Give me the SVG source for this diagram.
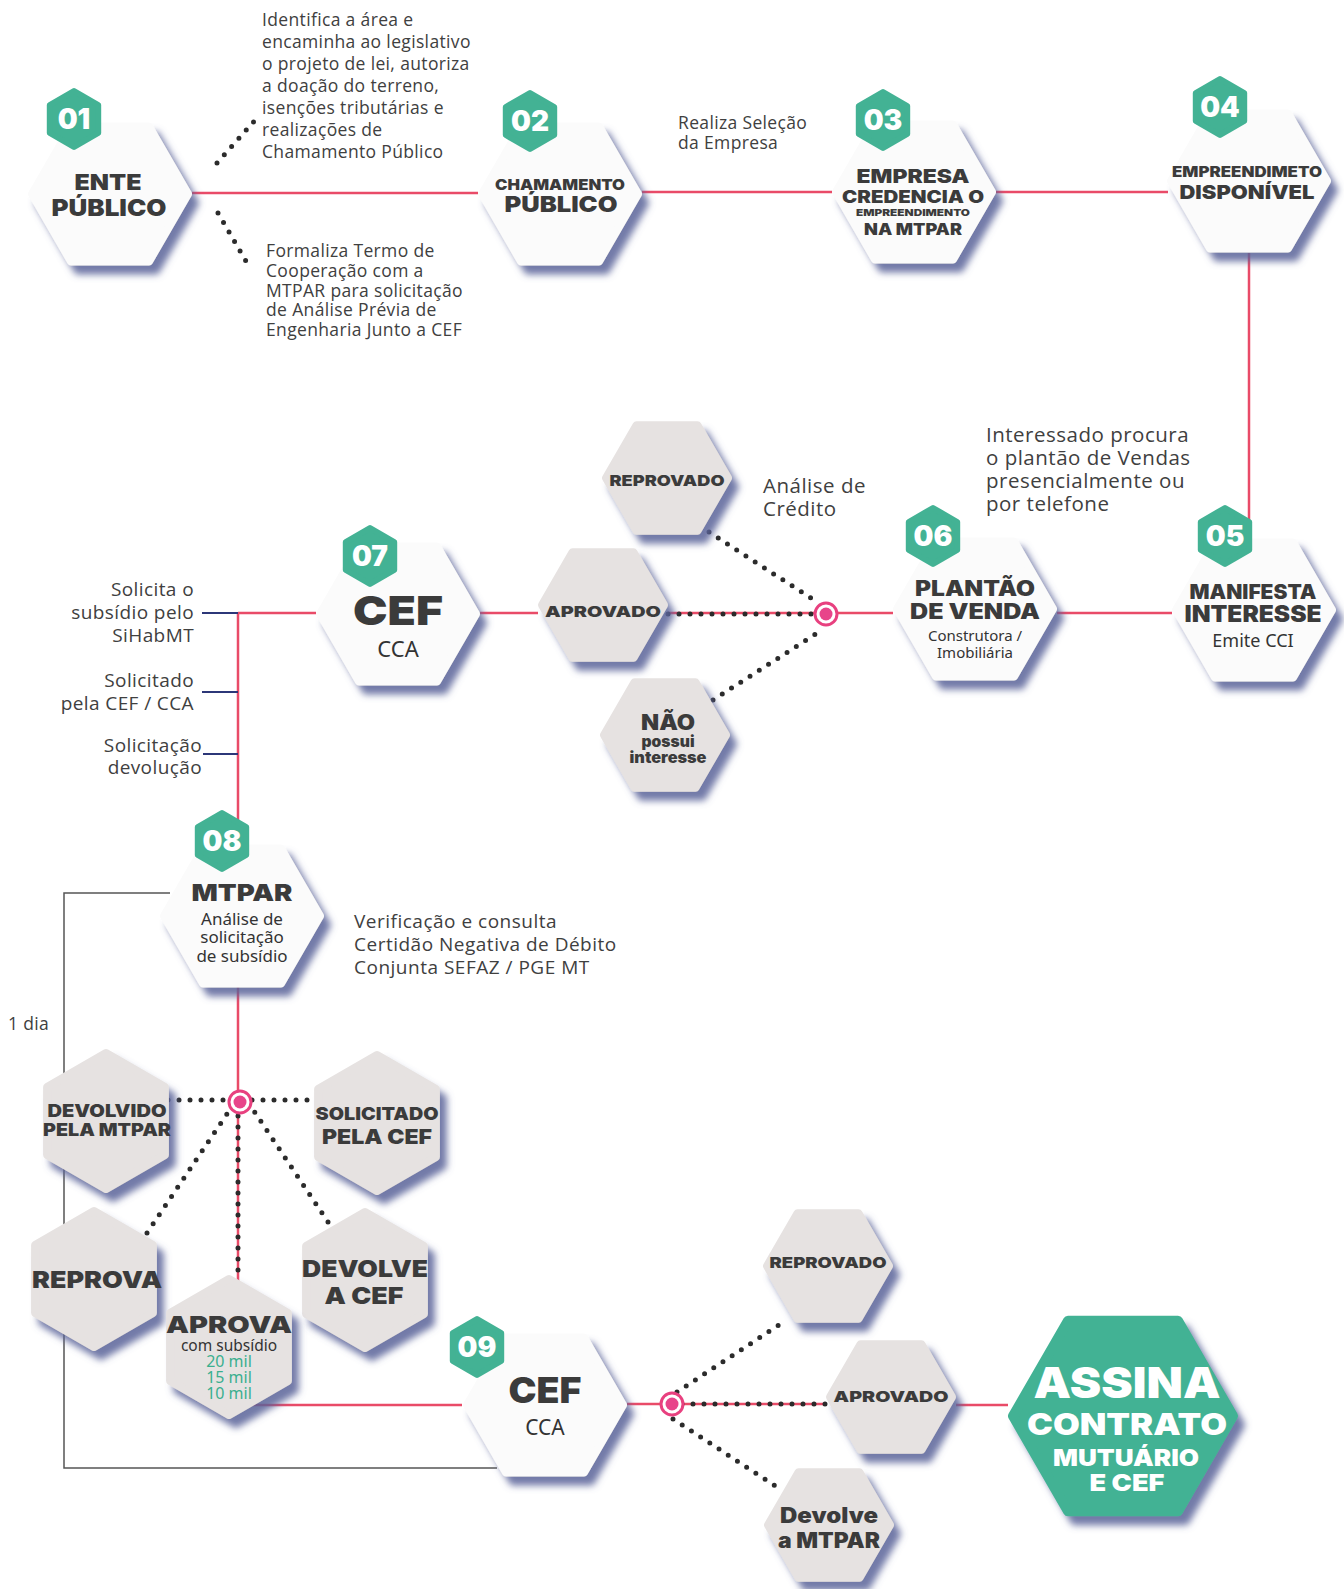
<svg xmlns="http://www.w3.org/2000/svg" xmlns:xlink="http://www.w3.org/1999/xlink" width="1344" height="1589" viewBox="0 0 1344 1589">
<style>
.red{stroke:#e94b68;stroke-width:2.5;fill:none}
.navy{stroke:#2c3778;stroke-width:2;fill:none}
.gray{stroke:#555;stroke-width:1.5;fill:none}
.dot{stroke:#2b2b2b;stroke-width:5;stroke-linecap:round;stroke-dasharray:0 11;fill:none}
.wn{fill:#fbfbfb;stroke:#fbfbfb;stroke-width:8;stroke-linejoin:round;filter:url(#sh)}
.gn{fill:#e6e2e1;stroke:#e6e2e1;stroke-width:8;stroke-linejoin:round;filter:url(#sh)}
.bd{fill:#43b294;stroke:#43b294;stroke-width:6;stroke-linejoin:round}
.bg{fill:#43b294;stroke:#43b294;stroke-width:10;stroke-linejoin:round;filter:url(#sh)}
.h{font-family:Inter,Lato,"Noto Sans",sans-serif;font-weight:900;fill:#3b3b3b;text-anchor:middle}
.hw{font-family:Inter,Lato,"Noto Sans",sans-serif;font-weight:900;fill:#fff;text-anchor:middle}
.bt{font-family:Inter,Lato,"Noto Sans",sans-serif;font-weight:900;fill:#fff;text-anchor:middle;font-size:28px}
.t{font-family:"Open Sans","Noto Sans",sans-serif;fill:#404040;font-size:17.5px;letter-spacing:0.35px}
.tl{font-family:"Open Sans","Noto Sans",sans-serif;fill:#404040;font-size:20.5px;letter-spacing:0.5px}
.tm{font-family:"Open Sans","Noto Sans",sans-serif;fill:#404040;font-size:19px;letter-spacing:0.5px}
.tr{font-family:"Open Sans","Noto Sans",sans-serif;fill:#404040;font-size:19px;letter-spacing:0.4px;text-anchor:end}
.c{font-family:"Noto Sans","Open Sans",sans-serif;fill:#333;text-anchor:middle}
.gr{font-family:"Noto Sans","Open Sans",sans-serif;fill:#3aaf8f;text-anchor:middle;font-size:16px}
</style>
<defs>
<filter id="sh" x="-20%" y="-20%" width="150%" height="150%">
<feDropShadow dx="7" dy="9" stdDeviation="3.5" flood-color="#5a6499" flood-opacity="0.85"/>
</filter>
<polygon id="hL" points="-78,0 -39,-67.5 39,-67.5 78,0 39,67.5 -39,67.5"/>
<polygon id="hS" points="-61,0 -30.5,-52.8 30.5,-52.8 61,0 30.5,52.8 -30.5,52.8"/>
<polygon id="hV" points="0,-68 58.9,-34 58.9,34 0,68 -58.9,34 -58.9,-34"/>
<polygon id="hBd" points="0,-28 24.2,-14 24.2,14 0,28 -24.2,14 -24.2,-14"/>
<polygon id="hB" points="-110,0 -55,-95.3 55,-95.3 110,0 55,95.3 -55,95.3"/>
</defs>
<rect width="1344" height="1589" fill="#ffffff"/>

<g id="connectors">
<line class="red" x1="192" y1="193" x2="478" y2="193"/>
<line class="red" x1="642" y1="192" x2="832" y2="192"/>
<line class="red" x1="996" y1="192" x2="1168" y2="192"/>
<line class="red" x1="1249" y1="253" x2="1249" y2="530"/>
<line class="red" x1="1057" y1="613" x2="1172" y2="613"/>
<line class="red" x1="668" y1="613" x2="893" y2="613"/>
<line class="red" x1="480" y1="613" x2="538" y2="613"/>
<line class="red" x1="238" y1="613" x2="316" y2="613"/>
<line class="red" x1="238" y1="612" x2="238" y2="1412"/>
<line class="red" x1="238" y1="1405" x2="462" y2="1405"/>
<line class="red" x1="627" y1="1404" x2="826" y2="1404"/>
<line class="red" x1="956" y1="1405" x2="1008" y2="1405"/>
<line class="navy" x1="202" y1="613" x2="238" y2="613"/>
<line class="navy" x1="202" y1="692" x2="238" y2="692"/>
<line class="navy" x1="203" y1="754" x2="238" y2="754"/>
<polyline class="gray" points="170,893 64,893 64,1468 497,1468"/>
<line class="dot" x1="217" y1="163" x2="257" y2="118"/>
<line class="dot" x1="218" y1="213" x2="247" y2="263"/>
<line class="dot" x1="709" y1="532" x2="817" y2="602"/>
<line class="dot" x1="668" y1="614" x2="812" y2="614"/>
<line class="dot" x1="713" y1="700" x2="822" y2="630"/>
<line class="dot" x1="168" y1="1100" x2="228" y2="1100"/>
<line class="dot" x1="252" y1="1100" x2="313" y2="1100"/>
<line class="dot" x1="147" y1="1233" x2="227" y2="1114"/>
<line class="dot" x1="328" y1="1222" x2="254" y2="1111"/>
<line class="dot" x1="238" y1="1116" x2="238" y2="1278"/>
<line class="dot" x1="677" y1="1392" x2="785" y2="1321"/>
<line class="dot" x1="673" y1="1419" x2="780" y2="1489"/>
<line class="dot" x1="682" y1="1404" x2="826" y2="1404"/>
<g id="junction1"><circle cx="826" cy="614" r="11" fill="#fff" stroke="#e8407f" stroke-width="3"/><circle cx="826" cy="614" r="6.5" fill="#e8448a"/></g>
<g id="junction2"><circle cx="240" cy="1102" r="11" fill="#fff" stroke="#e8407f" stroke-width="3"/><circle cx="240" cy="1102" r="6.5" fill="#e8448a"/></g>
<g id="junction3"><circle cx="672" cy="1404" r="11" fill="#fff" stroke="#e8407f" stroke-width="3"/><circle cx="672" cy="1404" r="6.5" fill="#e8448a"/></g>
</g>

<g id="labels">
<text class="t" x="262" y="26">Identifica a área e</text>
<text class="t" x="262" y="48">encaminha ao legislativo</text>
<text class="t" x="262" y="70">o projeto de lei, autoriza</text>
<text class="t" x="262" y="92">a doação do terreno,</text>
<text class="t" x="262" y="114">isenções tributárias e</text>
<text class="t" x="262" y="136">realizações de</text>
<text class="t" x="262" y="158">Chamamento Público</text>
<text class="t" x="266" y="257">Formaliza Termo de</text>
<text class="t" x="266" y="277">Cooperação com a</text>
<text class="t" x="266" y="297">MTPAR para solicitação</text>
<text class="t" x="266" y="316">de Análise Prévia de</text>
<text class="t" x="266" y="336">Engenharia Junto a CEF</text>
<text class="t" x="678" y="129">Realiza Seleção</text>
<text class="t" x="678" y="149">da Empresa</text>
<text class="tl" x="986" y="442">Interessado procura</text>
<text class="tl" x="986" y="465">o plantão de Vendas</text>
<text class="tl" x="986" y="488">presencialmente ou</text>
<text class="tl" x="986" y="511">por telefone</text>
<text class="tl" x="763" y="493">Análise de</text>
<text class="tl" x="763" y="516">Crédito</text>
<text class="tr" x="194" y="596">Solicita o</text>
<text class="tr" x="194" y="619">subsídio pelo</text>
<text class="tr" x="194" y="642">SiHabMT</text>
<text class="tr" x="194" y="687">Solicitado</text>
<text class="tr" x="194" y="710">pela CEF / CCA</text>
<text class="tr" x="202" y="752">Solicitação</text>
<text class="tr" x="202" y="774">devolução</text>
<text class="tm" x="354" y="928">Verificação e consulta</text>
<text class="tm" x="354" y="951">Certidão Negativa de Débito</text>
<text class="tm" x="354" y="974">Conjunta SEFAZ / PGE MT</text>
<text class="t" x="8" y="1030">1 dia</text>
</g>

<g id="n01">
<use href="#hL" x="110" y="194" class="wn"/>
<use href="#hBd" x="74" y="119" class="bd"/>
<text class="bt" x="74" y="129">01</text>
<text class="h" x="108" y="190" font-size="22" textLength="67" lengthAdjust="spacingAndGlyphs">ENTE</text>
<text class="h" x="109" y="216" font-size="23" textLength="115" lengthAdjust="spacingAndGlyphs">PÚBLICO</text>
</g>
<g id="n02">
<use href="#hL" x="560" y="194" class="wn"/>
<use href="#hBd" x="530" y="121" class="bd"/>
<text class="bt" x="530" y="131">02</text>
<text class="h" x="560" y="190" font-size="15" textLength="130" lengthAdjust="spacingAndGlyphs">CHAMAMENTO</text>
<text class="h" x="561" y="212" font-size="22" textLength="113" lengthAdjust="spacingAndGlyphs">PÚBLICO</text>
</g>
<g id="n03">
<use href="#hL" x="914" y="192" class="wn"/>
<use href="#hBd" x="883" y="120" class="bd"/>
<text class="bt" x="883" y="130">03</text>
<text class="h" x="913" y="183" font-size="19" textLength="113" lengthAdjust="spacingAndGlyphs">EMPRESA</text>
<text class="h" x="913" y="203" font-size="17" textLength="142" lengthAdjust="spacingAndGlyphs">CREDENCIA O</text>
<text class="h" x="913" y="216" font-size="9" textLength="114" lengthAdjust="spacingAndGlyphs">EMPREENDIMENTO</text>
<text class="h" x="913" y="235" font-size="16" textLength="98" lengthAdjust="spacingAndGlyphs">NA MTPAR</text>
</g>
<g id="n04">
<use href="#hL" x="1249" y="181" class="wn"/>
<use href="#hBd" x="1220" y="107" class="bd"/>
<text class="bt" x="1220" y="117">04</text>
<text class="h" x="1247" y="177" font-size="14" textLength="150" lengthAdjust="spacingAndGlyphs">EMPREENDIMETO</text>
<text class="h" x="1247" y="199" font-size="19" textLength="135" lengthAdjust="spacingAndGlyphs">DISPONÍVEL</text>
</g>
<g id="n05">
<use href="#hL" x="1254" y="610" class="wn"/>
<use href="#hBd" x="1225" y="536" class="bd"/>
<text class="bt" x="1225" y="546">05</text>
<text class="h" x="1253" y="599" font-size="20" textLength="127" lengthAdjust="spacingAndGlyphs">MANIFESTA</text>
<text class="h" x="1253" y="622" font-size="23" textLength="137" lengthAdjust="spacingAndGlyphs">INTERESSE</text>
<text class="c" x="1253" y="647" font-size="18">Emite CCI</text>
</g>
<g id="n06">
<use href="#hL" x="975" y="609" class="wn"/>
<use href="#hBd" x="933" y="536" class="bd"/>
<text class="bt" x="933" y="546">06</text>
<text class="h" x="975" y="596" font-size="21" textLength="120" lengthAdjust="spacingAndGlyphs">PLANTÃO</text>
<text class="h" x="975" y="619" font-size="21" textLength="130" lengthAdjust="spacingAndGlyphs">DE VENDA</text>
<text class="c" x="975" y="641" font-size="15">Construtora /</text>
<text class="c" x="975" y="658" font-size="15">Imobiliária</text>
</g>
<g id="n06-reprovado">
<use href="#hS" x="667" y="478" class="gn"/>
<text class="h" x="667" y="486" font-size="15" textLength="115" lengthAdjust="spacingAndGlyphs">REPROVADO</text>
</g>
<g id="n06-aprovado">
<use href="#hS" x="603" y="605" class="gn"/>
<text class="h" x="603" y="617" font-size="15" textLength="116" lengthAdjust="spacingAndGlyphs">APROVADO</text>
</g>
<g id="n06-nao">
<use href="#hS" x="665" y="735" class="gn"/>
<text class="h" x="668" y="730" font-size="21" textLength="54" lengthAdjust="spacingAndGlyphs">NÃO</text>
<text class="h" x="668" y="747" font-size="15" textLength="53" lengthAdjust="spacingAndGlyphs">possui</text>
<text class="h" x="668" y="763" font-size="15" textLength="77" lengthAdjust="spacingAndGlyphs">interesse</text>
</g>
<g id="n07">
<use href="#hL" x="398" y="614" class="wn"/>
<use href="#hBd" x="370" y="556" class="bd"/>
<text class="bt" x="370" y="566">07</text>
<text class="h" x="398" y="625" font-size="40" textLength="90" lengthAdjust="spacingAndGlyphs">CEF</text>
<text class="c" x="398" y="657" font-size="22">CCA</text>
</g>
<g id="n08">
<use href="#hL" x="242" y="916" class="wn"/>
<use href="#hBd" x="222" y="841" class="bd"/>
<text class="bt" x="222" y="851">08</text>
<text class="h" x="242" y="901" font-size="23" textLength="101" lengthAdjust="spacingAndGlyphs">MTPAR</text>
<text class="c" x="242" y="925" font-size="17">Análise de</text>
<text class="c" x="242" y="943" font-size="17">solicitação</text>
<text class="c" x="242" y="962" font-size="17">de subsídio</text>
</g>
<g id="n08-devolvido">
<use href="#hV" x="106" y="1121" class="gn"/>
<text class="h" x="107" y="1117" font-size="17" textLength="119" lengthAdjust="spacingAndGlyphs">DEVOLVIDO</text>
<text class="h" x="107" y="1136" font-size="17" textLength="128" lengthAdjust="spacingAndGlyphs">PELA MTPAR</text>
</g>
<g id="n08-solicitado">
<use href="#hV" x="377" y="1123" class="gn"/>
<text class="h" x="377" y="1120" font-size="18" textLength="123" lengthAdjust="spacingAndGlyphs">SOLICITADO</text>
<text class="h" x="377" y="1144" font-size="20" textLength="110" lengthAdjust="spacingAndGlyphs">PELA CEF</text>
</g>
<g id="n08-reprova">
<use href="#hV" x="94" y="1279" class="gn"/>
<text class="h" x="97" y="1288" font-size="23" textLength="130" lengthAdjust="spacingAndGlyphs">REPROVA</text>
</g>
<g id="n08-devolve">
<use href="#hV" x="365" y="1280" class="gn"/>
<text class="h" x="365" y="1277" font-size="23" textLength="126" lengthAdjust="spacingAndGlyphs">DEVOLVE</text>
<text class="h" x="364" y="1304" font-size="23" textLength="79" lengthAdjust="spacingAndGlyphs">A CEF</text>
</g>
<g id="n08-aprova">
<use href="#hV" x="229" y="1347" class="gn"/>
<text class="h" x="229" y="1333" font-size="23" textLength="126" lengthAdjust="spacingAndGlyphs">APROVA</text>
<text class="c" x="229" y="1351" font-size="15.5">com subsídio</text>
<text class="gr" x="229" y="1367">20 mil</text>
<text class="gr" x="229" y="1383">15 mil</text>
<text class="gr" x="229" y="1399">10 mil</text>
</g>
<g id="n09">
<use href="#hL" x="545" y="1405" class="wn"/>
<use href="#hBd" x="477" y="1347" class="bd"/>
<text class="bt" x="477" y="1357">09</text>
<text class="h" x="545" y="1403" font-size="35" textLength="73" lengthAdjust="spacingAndGlyphs">CEF</text>
<text class="c" x="545" y="1435" font-size="21">CCA</text>
</g>
<g id="n09-reprovado">
<use href="#hS" x="828" y="1266" class="gn"/>
<text class="h" x="828" y="1268" font-size="15" textLength="117" lengthAdjust="spacingAndGlyphs">REPROVADO</text>
</g>
<g id="n09-aprovado">
<use href="#hS" x="891" y="1397" class="gn"/>
<text class="h" x="891" y="1402" font-size="15" textLength="115" lengthAdjust="spacingAndGlyphs">APROVADO</text>
</g>
<g id="n09-devolve">
<use href="#hS" x="829" y="1525" class="gn"/>
<text class="h" x="829" y="1523" font-size="21" textLength="98" lengthAdjust="spacingAndGlyphs">Devolve</text>
<text class="h" x="829" y="1548" font-size="21" textLength="102" lengthAdjust="spacingAndGlyphs">a MTPAR</text>
</g>
<g id="n10-assina">
<use href="#hB" x="1123" y="1416" class="bg"/>
<text class="hw" x="1127" y="1398" font-size="43" textLength="187" lengthAdjust="spacingAndGlyphs">ASSINA</text>
<text class="hw" x="1127" y="1435" font-size="30" textLength="200" lengthAdjust="spacingAndGlyphs">CONTRATO</text>
<text class="hw" x="1126" y="1466" font-size="23" textLength="146" lengthAdjust="spacingAndGlyphs">MUTUÁRIO</text>
<text class="hw" x="1127" y="1491" font-size="23" textLength="75" lengthAdjust="spacingAndGlyphs">E CEF</text>
</g>
</svg>
